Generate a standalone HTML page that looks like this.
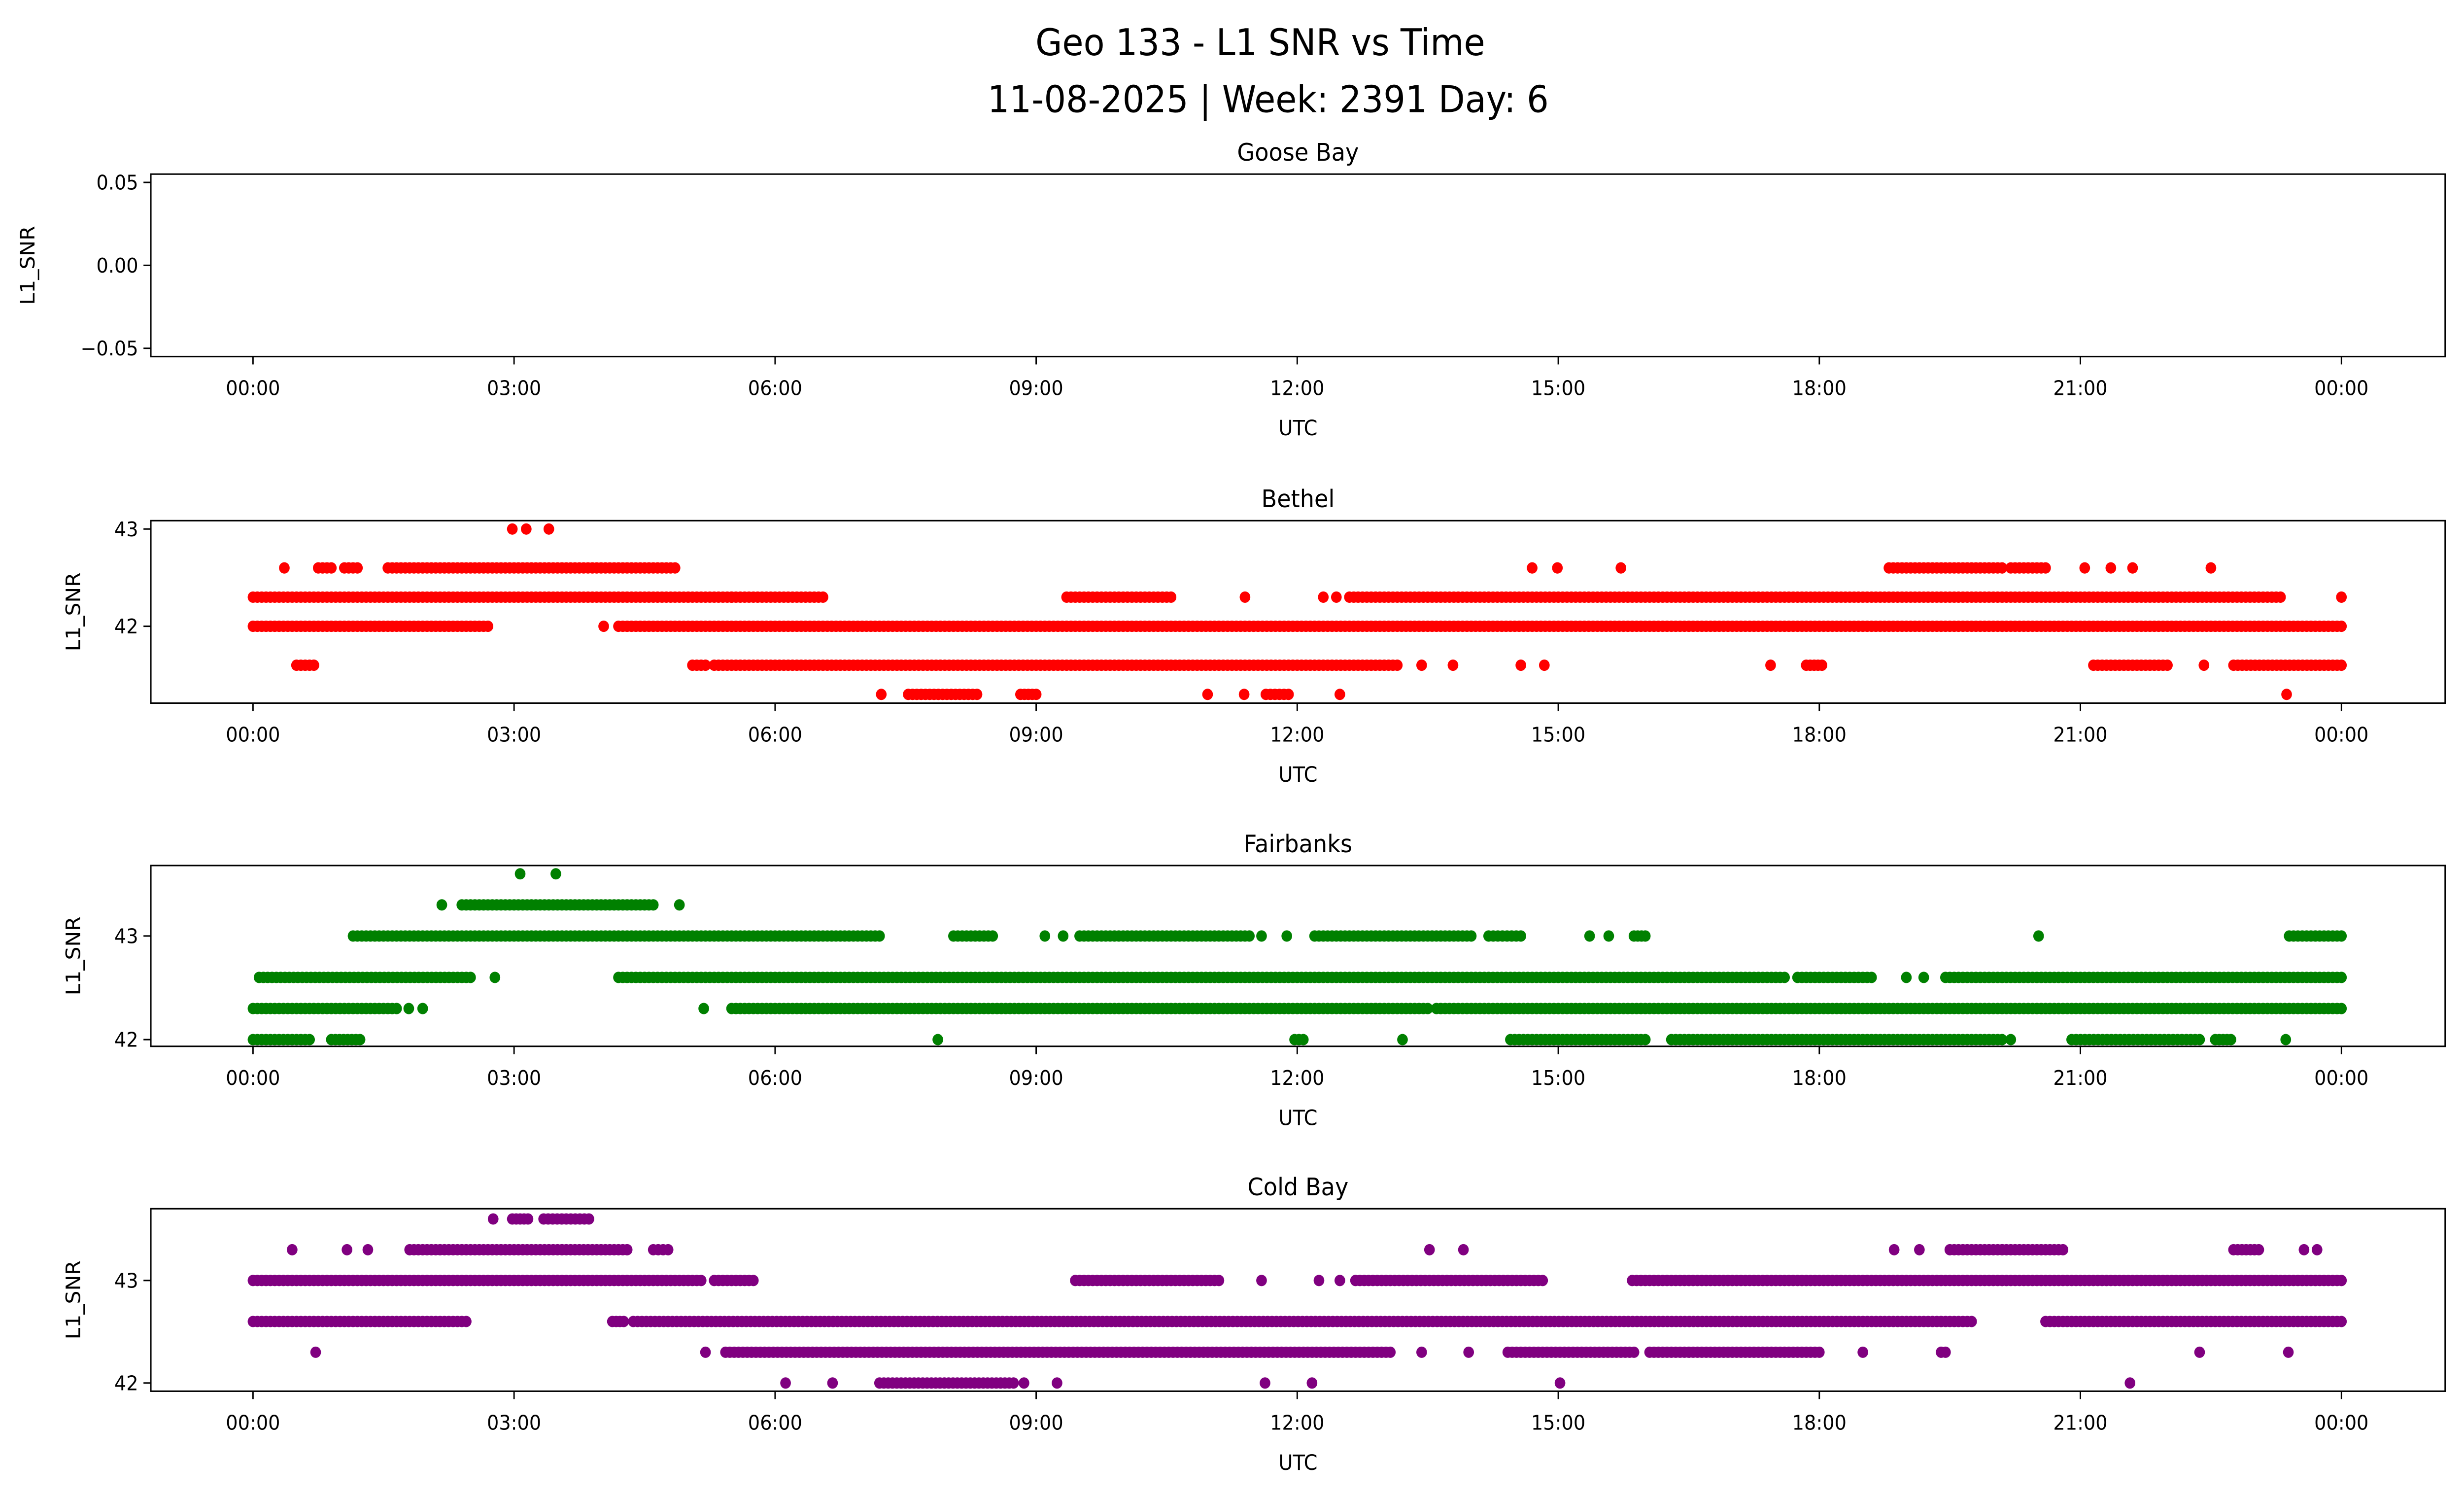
<!DOCTYPE html>
<html><head><meta charset="utf-8">
<style>
html,body{margin:0;padding:0;background:#fff;width:100%;height:100%;overflow:hidden;}
svg{display:block;position:fixed;left:0;top:0;width:100vw;height:100vh;font-family:"DejaVu Sans","Liberation Sans",sans-serif;}
</style></head>
<body>
<svg id="chart" viewBox="0 0 1568 893" preserveAspectRatio="none" xmlns="http://www.w3.org/2000/svg">
<rect width="1568" height="893" fill="#fff"/>
<text x="802" y="33" font-size="22" text-anchor="middle">Geo 133 - L1 SNR vs Time</text>
<text x="807" y="67" font-size="22" text-anchor="middle">11-08-2025 | Week: 2391 Day: 6</text>
<g id="plots"></g>
</svg>
<script>
const xTickLabels = ["00:00","03:00","06:00","09:00","12:00","15:00","18:00","21:00","00:00"];
const xTickHours = [0,3,6,9,12,15,18,21,24];
const stationNames = ["Goose Bay","Bethel","Fairbanks","Cold Bay"];
const gooseRuns = [];
const bethelRuns = [
 [0,5.5,42.3],[5.5,6.55,42.3],[9.35,10.55,42.3],[11.4,11.4,42.3],[12.3,12.3,42.3],[12.45,12.45,42.3],[12.6,23.3,42.3],[24,24,42.3],
 [0.36,0.36,42.6],[0.75,0.9,42.6],[1.05,1.2,42.6],[1.55,4.85,42.6],[14.7,14.7,42.6],[14.99,14.99,42.6],[15.72,15.72,42.6],[18.8,20.1,42.6],[20.2,20.6,42.6],[21.05,21.05,42.6],[21.35,21.35,42.6],[21.6,21.6,42.6],[22.5,22.5,42.6],
 [2.98,2.98,43],[3.14,3.14,43],[3.4,3.4,43],
 [0,2.7,42],[4.03,4.03,42],[4.2,24,42],
 [0.5,0.7,41.6],[5.05,5.2,41.6],[5.3,13.15,41.6],[13.43,13.43,41.6],[13.79,13.79,41.6],[14.57,14.57,41.6],[14.84,14.84,41.6],[17.44,17.44,41.6],[17.85,18.03,41.6],[21.15,22.0,41.6],[22.42,22.42,41.6],[22.76,24,41.6],
 [7.22,7.22,41.3],[7.53,8.32,41.3],[8.82,9.0,41.3],[10.97,10.97,41.3],[11.39,11.39,41.3],[11.64,11.9,41.3],[12.49,12.49,41.3],[23.37,23.37,41.3]
];
const fairbanksRuns = [
 [3.07,3.07,43.6],[3.48,3.48,43.6],
 [2.17,2.17,43.3],[2.4,4.6,43.3],[4.9,4.9,43.3],
 [1.15,7.2,43],[8.05,8.5,43],[9.1,9.1,43],[9.31,9.31,43],[9.5,11.45,43],[11.59,11.59,43],[11.88,11.88,43],[12.2,14.0,43],[14.2,14.57,43],[15.36,15.36,43],[15.58,15.58,43],[15.87,16.0,43],[20.52,20.52,43],[23.4,24,43],
 [0.07,2.5,42.6],[2.78,2.78,42.6],[4.2,17.6,42.6],[17.75,18.6,42.6],[19.0,19.0,42.6],[19.2,19.2,42.6],[19.45,24,42.6],
 [0,1.65,42.3],[1.79,1.79,42.3],[1.95,1.95,42.3],[5.18,5.18,42.3],[5.5,6.5,42.3],[6.55,12.9,42.3],[12.9,13.5,42.3],[13.6,24,42.3],
 [0,0.65,42],[0.9,1.23,42],[7.87,7.87,42],[11.97,12.07,42],[13.21,13.21,42],[14.45,16.0,42],[16.3,20.1,42],[20.2,20.2,42],[20.9,22.37,42],[22.55,22.73,42],[23.36,23.36,42]
];
const coldBayRuns = [
 [2.76,2.76,43.6],[2.98,3.16,43.6],[3.34,3.86,43.6],
 [0.45,0.45,43.3],[1.08,1.08,43.3],[1.32,1.32,43.3],[1.8,4.3,43.3],[4.6,4.77,43.3],[13.52,13.52,43.3],[13.91,13.91,43.3],[18.86,18.86,43.3],[19.15,19.15,43.3],[19.5,20.8,43.3],[22.76,23.05,43.3],[23.57,23.57,43.3],[23.72,23.72,43.3],
 [0,5.15,43],[5.3,5.75,43],[9.45,11.1,43],[11.59,11.59,43],[12.25,12.25,43],[12.49,12.49,43],[12.67,14.82,43],[15.85,24,43],
 [0,2.45,42.6],[4.13,4.26,42.6],[4.37,19.75,42.6],[20.6,24,42.6],
 [0.72,0.72,42.3],[5.2,5.2,42.3],[5.43,13.07,42.3],[13.43,13.43,42.3],[13.97,13.97,42.3],[14.42,15.87,42.3],[16.05,18.0,42.3],[18.5,18.5,42.3],[19.4,19.45,42.3],[22.37,22.37,42.3],[23.39,23.39,42.3],
 [6.12,6.12,42],[6.66,6.66,42],[7.2,8.74,42],[8.86,8.86,42],[9.24,9.24,42],[11.63,11.63,42],[12.17,12.17,42],[15.02,15.02,42],[21.57,21.57,42]
];
const gooseYTicks = [0.05,0,-0.05];
const gooseYLabels = ["0.05","0.00","\u22120.05"];
const bethelYTicks = [43,42];
const fairbanksYTicks = [43,42];
const coldBayYTicks = [43,42];

const NS="http://www.w3.org/2000/svg";
const root=document.getElementById('plots');
function mk(tag,attrs,parent){const e=document.createElementNS(NS,tag);for(const k in attrs)e.setAttribute(k,attrs[k]);(parent||root).appendChild(e);return e;}
const X0=96,X1=1556;
function xScale(h){return 161+h*(1490-161)/24;}
const panels=[
 {name:stationNames[0],top:104,bot:213,ymin:-0.055,ymax:0.055,runs:gooseRuns,ticks:gooseYTicks,labels:gooseYLabels,color:'#1f77b4',ylx:22,slug:'goose-bay'},
 {name:stationNames[1],top:311,bot:420,ymin:41.21,ymax:43.086,runs:bethelRuns,ticks:bethelYTicks,labels:["43","42"],color:'#ff0000',ylx:51,slug:'bethel'},
 {name:stationNames[2],top:517,bot:625,ymin:41.935,ymax:43.68,runs:fairbanksRuns,ticks:fairbanksYTicks,labels:["43","42"],color:'#008000',ylx:51,slug:'fairbanks'},
 {name:stationNames[3],top:722,bot:831,ymin:41.92,ymax:43.70,runs:coldBayRuns,ticks:coldBayYTicks,labels:["43","42"],color:'#800080',ylx:51,slug:'cold-bay'}
];
panels.forEach(p=>{
 const g=mk('g',{});
 
 
 const yS=v=>p.bot-(v-p.ymin)/(p.ymax-p.ymin)*(p.bot-p.top);
 const pts=mk('g',{fill:p.color},g);
 
 
 p.runs.forEach(r=>{
  const n=Math.max(1,Math.round((r[1]-r[0])/0.05));
  for(let i=0;i<=n;i++){
   const h=r[0]+(r[1]-r[0])*(n?i/n:0);
   const c=mk('circle',{cx:xScale(h).toFixed(2),cy:yS(r[2]).toFixed(2),r:3.4},pts);
   
   
   if(r[0]===r[1])break;
  }
 });
 const fr=mk('rect',{x:X0,y:p.top,width:X1-X0,height:p.bot-p.top,fill:'none',stroke:'#000','stroke-width':0.9},g);
 
 
 xTickHours.forEach((h,i)=>{
  const x=xScale(h);
  mk('line',{x1:x,x2:x,y1:p.bot,y2:p.bot+4.7,stroke:'#000','stroke-width':0.9},g);
  const t=mk('text',{x:x,y:p.bot+23,'font-size':12,'text-anchor':'middle'},g);
  t.textContent=xTickLabels[i];
  
  
 });
 p.ticks.forEach((v,i)=>{
  const y=yS(v);
  mk('line',{x1:X0-4.7,x2:X0,y1:y,y2:y,stroke:'#000','stroke-width':0.9},g);
  const t=mk('text',{x:X0-8,y:y+4.3,'font-size':12,'text-anchor':'end'},g);
  t.textContent=p.labels[i];
  
  
 });
 const tt=mk('text',{x:826,y:p.top-8,'font-size':14.5,'text-anchor':'middle'},g);
 tt.textContent=p.name;
 
 
 const xl=mk('text',{x:826,y:p.bot+47,'font-size':12.5,'text-anchor':'middle'},g);
 xl.textContent='UTC';
 
 
 const cy=(p.top+p.bot)/2;
 const yl=mk('text',{x:p.ylx,y:cy,'font-size':12.5,'text-anchor':'middle',transform:`rotate(-90 ${p.ylx} ${cy})`},g);
 yl.textContent='L1_SNR';
 
 
});
</script>
</body></html>
